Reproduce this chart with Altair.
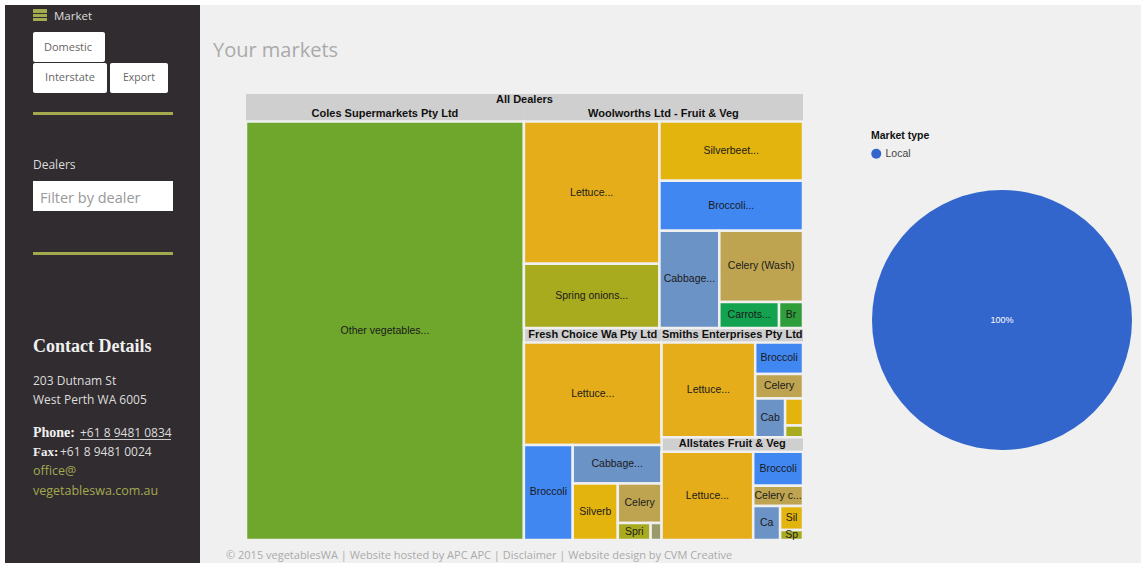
import altair as alt
import pandas as pd

W, H = 1141, 563
PAGE = "#f0f0f0"
SIDEBAR = "#312c2f"
OLIVE = "#a3a94f"

# Vegetable colours used by the treemap tiles
COLOURS = {
    "Other vegetables": "#6fa72c",
    "Lettuce": "#e5ad1a",
    "Spring onions": "#a9ab1f",
    "Silverbeet": "#e3b30e",
    "Broccoli": "#4087f2",
    "Cabbage": "#6c93c6",
    "Celery": "#bea451",
    "Cos": "#13a24f",
    "Beans": "#2f9e3a",
    "Herbs": "#9a9a6a",
}

# Tile tuples per dealer: vegetable, tile label, value
coles_veg = ["Other vegetables"]
coles_lab = ["Other vegetables..."]
coles_val = [1208.0]

wool_veg = ["Lettuce", "Spring onions", "Silverbeet", "Broccoli", "Cabbage", "Celery", "Cos", "Beans"]
wool_lab = ["Lettuce...", "Spring onions...", "Silverbeet...", "Broccoli...", "Cabbage...", "Celery (Wash)", "Carrots...", "Br"]
wool_val = [207.3, 93.4, 91.2, 77.3, 62.5, 64.0, 16.7, 6.7]

fresh_veg = ["Lettuce", "Broccoli", "Cabbage", "Silverbeet", "Celery", "Spring onions", "Herbs"]
fresh_lab = ["Lettuce...", "Broccoli", "Cabbage...", "Silverb", "Celery", "Spri", ""]
fresh_val = [152.0, 50.0, 36.8, 27.5, 18.7, 6.0, 2.0]

smith_veg = ["Lettuce", "Broccoli", "Celery", "Cabbage", "Silverbeet", "Spring onions"]
smith_lab = ["Lettuce...", "Broccoli", "Celery", "Cab", "", ""]
smith_val = [102.6, 17.5, 13.5, 13.4, 5.6, 2.4]

allst_veg = ["Lettuce", "Broccoli", "Celery", "Cabbage", "Silverbeet", "Spring onions"]
allst_lab = ["Lettuce...", "Broccoli", "Celery c...", "Ca", "Sil", "Sp"]
allst_val = [94.6, 19.9, 11.7, 10.7, 6.4, 2.7]

dealer_names = [
    "Coles Supermarkets Pty Ltd",
    "Woolworths Ltd - Fruit & Veg",
    "Fresh Choice Wa Pty Ltd",
    "Smiths Enterprises Pty Ltd",
    "Allstates Fruit & Veg",
]
dealer_tiles = [
    (coles_veg, coles_lab, coles_val),
    (wool_veg, wool_lab, wool_val),
    (fresh_veg, fresh_lab, fresh_val),
    (smith_veg, smith_lab, smith_val),
    (allst_veg, allst_lab, allst_val),
]

# Slice directions: "h" places children side by side, "v" stacks them; ints index tiles
dealer_splits = [
    0,
    ("h", [("v", [0, 1]), ("v", [2, 3, ("h", [4, ("v", [5, ("h", [6, 7])])])])]),
    ("v", [0, ("h", [1, ("v", [2, ("h", [3, ("v", [4, ("h", [5, 6])])])])])]),
    ("h", [0, ("v", [1, 2, ("h", [3, ("v", [4, 5])])])]),
    ("h", [0, ("v", [1, 2, ("h", [3, ("v", [4, 5])])])]),
]
root_split = ("h", [0, ("v", [1, ("h", [2, ("v", [3, 4])])])])

market_types = ["Local"]
market_share = [100]

TM_W, TM_H = 557.0, 446.0
ROOT_HEADER, DEALER_HEADER = 13.0, 14.5


def weight(node, values):
    if isinstance(node, int):
        return values[node]
    return sum(weight(c, values) for c in node[1])


def place(node, box, values, leaf):
    """Slice a box among the children of a node in proportion to their totals."""
    if isinstance(node, int):
        leaf(node, box)
        return
    x0, y0, x1, y1 = box
    total = weight(node, values)
    pos = x0 if node[0] == "h" else y0
    for child in node[1]:
        share = weight(child, values) / total
        if node[0] == "h":
            end = pos + share * (x1 - x0)
            place(child, (pos, y0, end, y1), values, leaf)
        else:
            end = pos + share * (y1 - y0)
            place(child, (x0, pos, x1, end), values, leaf)
        pos = end


headers = [dict(x0=0, y0=0, x1=TM_W, y1=ROOT_HEADER, label="All Dealers")]
tiles = []
dealer_totals = [sum(t[2]) for t in dealer_tiles]


def place_dealer(i, box):
    x0, y0, x1, y1 = box
    headers.append(dict(x0=x0, y0=y0, x1=x1, y1=y0 + DEALER_HEADER, label=dealer_names[i]))
    veg, lab, val = dealer_tiles[i]

    def add_tile(j, b):
        tiles.append(dict(x0=b[0], y0=b[1], x1=b[2], y1=b[3], veg=veg[j],
                          label=lab[j], colour=COLOURS[veg[j]], value=val[j]))

    place(dealer_splits[i], (x0, y0 + DEALER_HEADER, x1, y1), val, add_tile)


place(root_split, (0, ROOT_HEADER, TM_W, TM_H), dealer_totals, place_dealer)

tile_df = pd.DataFrame(tiles)
tile_df["xc"] = (tile_df.x0 + tile_df.x1) / 2
tile_df["yc"] = (tile_df.y0 + tile_df.y1) / 2
head_df = pd.DataFrame(headers)
head_df["xc"] = (head_df.x0 + head_df.x1) / 2
head_df["yc"] = (head_df.y0 + head_df.y1) / 2

tm_x = alt.Scale(domain=[0, TM_W], range=[246, 803])
tm_y = alt.Scale(domain=[0, TM_H], range=[94, 540])
one = pd.DataFrame({"k": [0]})


def box(x0, y0, x1, y1, fill, **kw):
    return alt.Chart(one).mark_rect(fill=fill, **kw).encode(
        x=alt.value(x0), x2=alt.value(x1), y=alt.value(y0), y2=alt.value(y1))


def label(text, x, y, size=12, color="#dddddd", font="Open Sans", weight="normal", align="left"):
    return alt.Chart(one).mark_text(
        text=text, fontSize=size, color=color, font=font, fontWeight=weight,
        align=align, baseline="middle").encode(x=alt.value(x), y=alt.value(y))


chrome = [
    box(5, 5, W, H, PAGE),
    box(5, 5, 200, H, SIDEBAR),
    box(33, 9, 47, 21, OLIVE),
    box(33, 13, 47, 14, SIDEBAR),
    box(33, 17, 47, 18, SIDEBAR),
    label("Market", 54, 17, 11.5),
    box(33, 32, 105, 62, "#ffffff", cornerRadius=2),
    box(33, 63, 107, 93, "#ffffff", cornerRadius=2),
    box(110, 63, 168, 93, "#ffffff", cornerRadius=2),
    label("Domestic", 68, 48, 11, "#666666", align="center"),
    label("Interstate", 70, 78, 11, "#666666", align="center"),
    label("Export", 139, 78, 10.5, "#666666", align="center"),
    box(33, 112, 173, 115, OLIVE),
    label("Dealers", 33, 165, 12),
    box(33, 181, 173, 211, "#ffffff"),
    label("Filter by dealer", 40, 199, 14.5, "#999999"),
    box(33, 252, 173, 255, OLIVE),
    label("Contact Details", 33, 347, 18, "#f0f0f0", "Liberation Serif", "bold"),
    label("203 Dutnam St", 33, 381, 12),
    label("West Perth WA 6005", 33, 400, 12),
    label("Phone:", 33, 433, 14, "#f0f0f0", "Liberation Serif", "bold"),
    label("+61 8 9481 0834", 80, 433, 12),
    box(80, 439, 171, 440, "#cccccc"),
    label("Fax:", 33, 452, 13, "#f0f0f0", "Liberation Serif", "bold"),
    label("+61 8 9481 0024", 60, 452, 12),
    label("office@", 33, 471, 12.5, OLIVE),
    label("vegetableswa.com.au", 33, 491, 12.5, OLIVE),
    label("Your markets", 213, 51, 20, "#aaaaaa"),
    label("© 2015 vegetablesWA | Website hosted by APC APC | Disclaimer | Website design by CVM Creative",
          226, 556, 11, "#aaaaaa"),
]

header_rects = alt.Chart(head_df).mark_rect(fill="#cfcfcf").encode(
    x=alt.X("x0:Q", scale=tm_x, axis=None), x2="x1:Q",
    y=alt.Y("y0:Q", scale=tm_y, axis=None), y2="y1:Q")
header_text = alt.Chart(head_df).mark_text(
    font="Liberation Sans", fontSize=11, fontWeight="bold", color="#111111", dy=-0.5).encode(
    x=alt.X("xc:Q", scale=tm_x, axis=None), y=alt.Y("yc:Q", scale=tm_y, axis=None), text="label:N")
tile_rects = alt.Chart(tile_df).mark_rect(stroke=PAGE, strokeWidth=2.5).encode(
    x=alt.X("x0:Q", scale=tm_x, axis=None), x2="x1:Q",
    y=alt.Y("y0:Q", scale=tm_y, axis=None), y2="y1:Q",
    color=alt.Color("colour:N", scale=None, legend=None))
tile_text = alt.Chart(tile_df).mark_text(
    font="Liberation Sans", fontSize=10.5, color="#1a1a1a").encode(
    x=alt.X("xc:Q", scale=tm_x, axis=None), y=alt.Y("yc:Q", scale=tm_y, axis=None), text="label:N")

market_df = pd.DataFrame({"market": market_types, "share": market_share})
pie = alt.Chart(market_df).mark_arc(outerRadius=130).encode(
    theta=alt.Theta("share:Q", stack=True),
    color=alt.Color(
        "market:N",
        scale=alt.Scale(domain=market_types, range=["#3366cc"]),
        legend=alt.Legend(
            title="Market type", orient="none", legendX=871, legendY=131,
            titleFont="Liberation Sans", titleFontSize=10.5, titleFontWeight="bold", titleColor="#111111",
            labelFont="Liberation Sans", labelFontSize=10.5, labelColor="#444444",
            symbolType="circle", symbolSize=100, symbolStrokeWidth=0, titlePadding=7),
    ),
    x=alt.value(1002), y=alt.value(320))
pie_text = alt.Chart(market_df).transform_calculate(txt="datum.share + '%'").mark_text(
    font="Liberation Sans", fontSize=9, color="#ffffff").encode(
    x=alt.value(1002), y=alt.value(320), text="txt:N")

chart = alt.layer(
    *chrome, header_rects, header_text, tile_rects, tile_text, pie, pie_text
).resolve_scale(color="independent").properties(
    width=W, height=H, padding=0, autosize=alt.AutoSizeParams(type="none"),
    background="#ffffff",
).configure_view(stroke=None)

chart.save("out.html", embed_options={"renderer": "svg", "actions": False})
